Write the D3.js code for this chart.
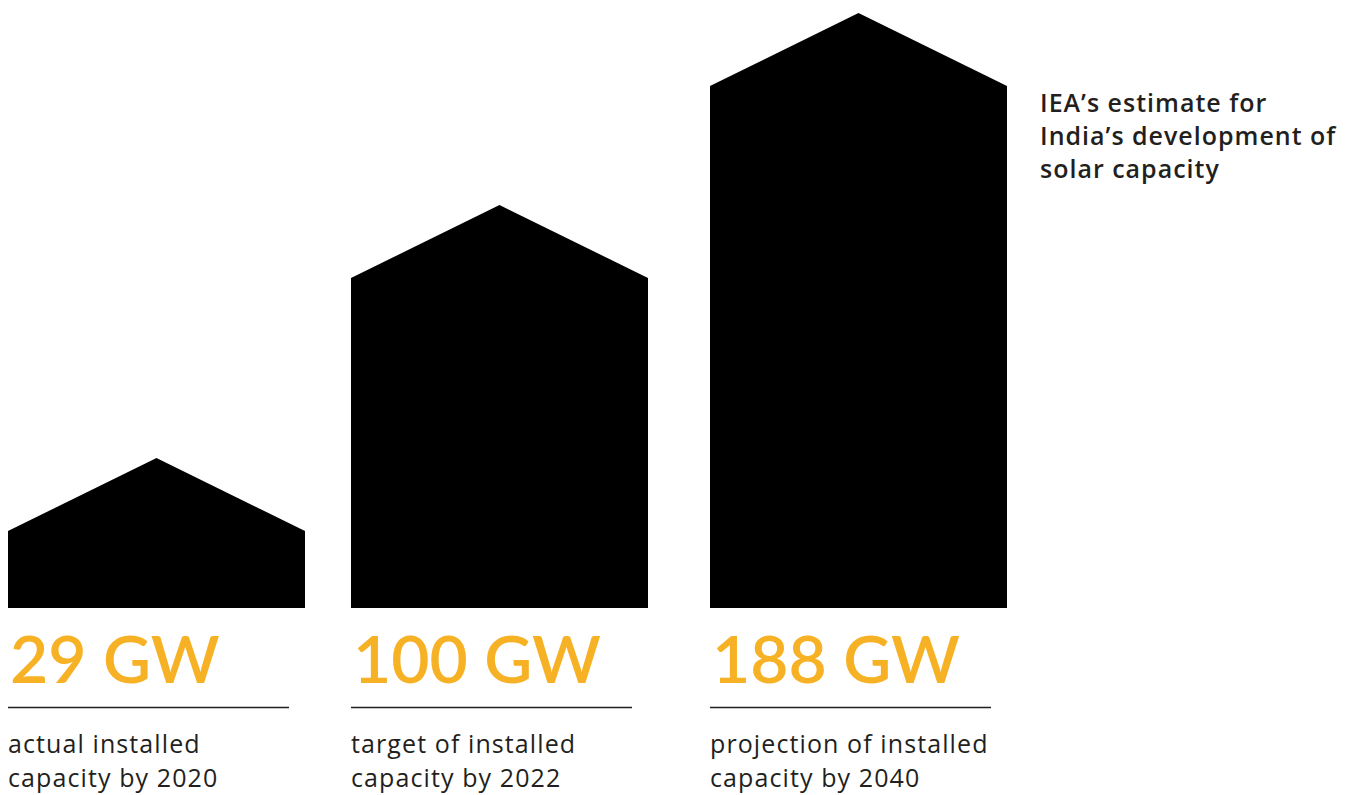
<!DOCTYPE html>
<html><head><meta charset="utf-8">
<script src="https://cdn.jsdelivr.net/npm/d3@7"></script>
<style>html,body{margin:0;padding:0;background:#fff;}svg{display:block;}</style>
</head><body>
<script>
const categories = ["2020", "2022", "2040"];
const values = [29, 100, 188];
const valueLabels = ["29 GW", "100 GW", "188 GW"];
const descLine1 = ["actual installed", "target of installed", "projection of installed"];
const descLine2 = ["capacity by 2020", "capacity by 2022", "capacity by 2040"];
const titleLines = ["IEA\u2019s estimate for", "India\u2019s development of", "solar capacity"];

const W = 1354, H = 795;
const svg = d3.select("body").append("svg").attr("width", W).attr("height", H);

const x = d3.scaleOrdinal().domain(categories).range([8, 351, 710]);
const barW = 297;
const baseY = 608;
// infographic: heights are illustrative, not proportional
const y = d3.scaleLinear().domain([0, 29, 100, 188]).range([baseY, 531, 278, 86]);
const roof = 73;

const g = svg.append("g");
categories.forEach((c, i) => {
  const x0 = x(c), x1 = x0 + barW, yt = y(values[i]);
  const path = d3.path();
  path.moveTo(x0, baseY);
  path.lineTo(x0, yt);
  path.lineTo(x0 + barW / 2, yt - roof);
  path.lineTo(x1, yt);
  path.lineTo(x1, baseY);
  path.closePath();
  g.append("path").attr("d", path.toString()).attr("fill", "#000");

  g.append("text").attr("x", x0 + 2).attr("y", 683)
    .attr("font-family", "Lato, 'Open Sans', sans-serif").attr("font-weight", 600)
    .attr("font-size", 66).attr("fill", "#F7B125").text(valueLabels[i]);

  g.append("line").attr("x1", x0).attr("x2", x0 + 281).attr("y1", 707.5).attr("y2", 707.5)
    .attr("stroke", "#231f20").attr("stroke-width", 1.5);

  [descLine1[i], descLine2[i]].forEach((t, j) => {
    g.append("text").attr("x", x0).attr("y", 753 + j * 34)
      .attr("font-family", "'Open Sans', sans-serif").attr("font-size", 25)
      .attr("letter-spacing", 1.1)
      .attr("fill", "#231f20").text(t);
  });
});

titleLines.forEach((t, i) => {
  svg.append("text").attr("x", 1040).attr("y", 112 + i * 33)
    .attr("font-family", "'Open Sans', sans-serif").attr("font-weight", 600)
    .attr("font-size", 25).attr("letter-spacing", 1)
    .attr("fill", "#231f20").text(t);
});
</script>
</body></html>
